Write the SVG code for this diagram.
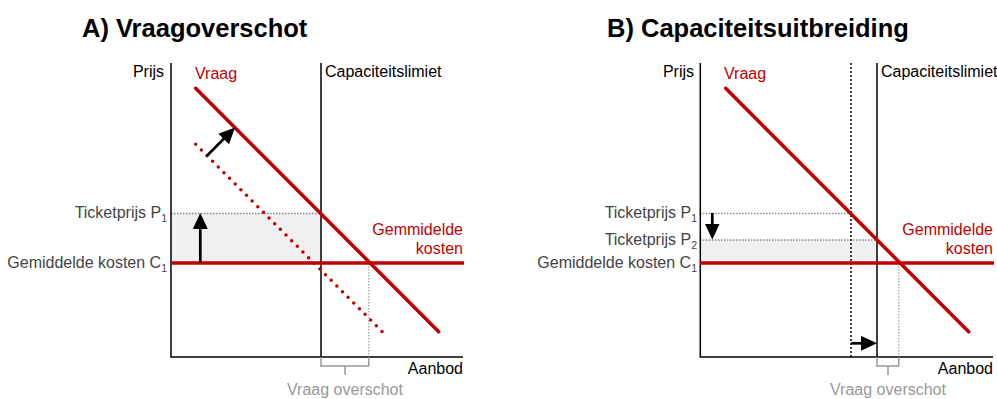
<svg xmlns="http://www.w3.org/2000/svg" width="997" height="399" viewBox="0 0 997 399">
<style>
text{font-family:"Liberation Sans",Arial,sans-serif;font-size:16px;fill:#000}
.title{font-size:25.5px;font-weight:bold}
.red{fill:#c00000}
.gray{fill:#444}
.light{fill:#999}
.end{text-anchor:end}
.mid{text-anchor:middle}
.sub{font-size:10.5px}
.axis{stroke:#000;stroke-width:1.5;fill:none}
.demand{stroke:#c00000;stroke-width:3.5;stroke-linecap:round;fill:none}
.dots{stroke:#c00000;stroke-width:3.5;stroke-linecap:round;stroke-dasharray:0 8;fill:none}
.cost{stroke:#c00000;stroke-width:3.5;fill:none}
.guide{stroke:#888;stroke-width:1.3;stroke-dasharray:1.5 1.5;fill:none}
.guide2{stroke:#aaa;stroke-width:1.3;stroke-dasharray:1.5 1.5;fill:none}
.vdot{stroke:#000;stroke-width:1.5;stroke-dasharray:2 2;fill:none}
.bracket{stroke:#999;stroke-width:1.5;fill:none}
.shade{fill:#f0f0f0}
.arrow{stroke:#000;stroke-width:2.7;fill:none;marker-end:url(#ah)}
</style>
<defs>
<marker id="ah" markerUnits="userSpaceOnUse" markerWidth="16" markerHeight="15" viewBox="0 0 16 15" refX="3" refY="7.5" orient="auto">
<path d="M0,0 L16,7.5 L0,15 z" fill="#000"/>
</marker>
</defs>

<g id="panelA">
<text class="title" x="82" y="37">A) Vraagoverschot</text>
<g id="A-shade"><rect class="shade" x="171" y="213.5" width="150" height="49"/></g>
<g id="A-guides">
<line class="guide" x1="171" y1="213.5" x2="321" y2="213.5"/>
<line class="guide2" x1="368.7" y1="263" x2="368.7" y2="357"/>
</g>
<g id="A-axes">
<polyline class="axis" points="171,63 171,357 463,357"/>
<text x="164" y="77" class="end">Prijs</text>
<text x="463" y="374" class="end">Aanbod</text>
</g>
<g id="A-capacity">
<line class="axis" x1="321" y1="63" x2="321" y2="357"/>
<text x="325" y="77">Capaciteitslimiet</text>
</g>
<g id="A-demand-old"><line class="dots" x1="195.7" y1="144.3" x2="382.3" y2="331.7"/></g>
<g id="A-demand">
<line class="demand" x1="195.7" y1="88.3" x2="438.7" y2="331.7"/>
<text x="195" y="79" class="red">Vraag</text>
</g>
<g id="A-cost">
<line class="cost" x1="171" y1="263" x2="464" y2="263"/>
<text x="463" y="235" class="red end">Gemmidelde</text>
<text x="463" y="254" class="red end">kosten</text>
</g>
<g id="A-labels">
<text x="167" y="218" class="gray end">Ticketprijs P<tspan class="sub" dy="4">1</tspan></text>
<text x="167" y="268" class="gray end">Gemiddelde kosten C<tspan class="sub" dy="4">1</tspan></text>
</g>
<g id="A-excess">
<polyline class="bracket" points="321,357 321,366 368.7,366 368.7,357"/>
<line class="bracket" x1="345" y1="366" x2="345" y2="375"/>
<text x="345" y="395" class="light mid">Vraag overschot</text>
</g>
<g id="A-connectors">
<line class="arrow" x1="206.7" y1="156" x2="225.8" y2="136.8"/>
<line class="arrow" x1="200.3" y1="263" x2="200.3" y2="226"/>
</g>
</g>

<g id="panelB">
<text class="title" x="607" y="37">B) Capaciteitsuitbreiding</text>
<g id="B-shade"><rect class="shade" x="700" y="240" width="177" height="23"/></g>
<g id="B-guides">
<line class="guide" x1="700" y1="213.5" x2="851" y2="213.5"/>
<line class="guide" x1="700" y1="240" x2="877" y2="240"/>
<line class="guide2" x1="898.7" y1="263" x2="898.7" y2="357"/>
<line class="vdot" x1="851" y1="63" x2="851" y2="357"/>
</g>
<g id="B-axes">
<polyline class="axis" points="700.3,63 700.3,357 993,357"/>
<text x="694" y="77" class="end">Prijs</text>
<text x="993" y="374" class="end">Aanbod</text>
</g>
<g id="B-capacity">
<line class="axis" x1="877" y1="63" x2="877" y2="357"/>
<text x="881" y="77">Capaciteitslimiet</text>
</g>
<g id="B-demand">
<line class="demand" x1="725.7" y1="88.3" x2="968.7" y2="331.7"/>
<text x="724" y="79" class="red">Vraag</text>
</g>
<g id="B-cost">
<line class="cost" x1="700" y1="263" x2="994" y2="263"/>
<text x="993" y="235" class="red end">Gemmidelde</text>
<text x="993" y="254" class="red end">kosten</text>
</g>
<g id="B-labels">
<text x="697" y="218" class="gray end">Ticketprijs P<tspan class="sub" dy="4">1</tspan></text>
<text x="697" y="245" class="gray end">Ticketprijs P<tspan class="sub" dy="4">2</tspan></text>
<text x="697" y="268" class="gray end">Gemiddelde kosten C<tspan class="sub" dy="4">1</tspan></text>
</g>
<g id="B-excess">
<polyline class="bracket" points="877,357 877,366 898.7,366 898.7,357"/>
<line class="bracket" x1="888" y1="366" x2="888" y2="375"/>
<text x="888" y="395" class="light mid">Vraag overschot</text>
</g>
<g id="B-connectors">
<line class="arrow" x1="712.3" y1="213" x2="712.3" y2="226.5"/>
<line class="arrow" x1="851" y1="343.3" x2="864" y2="343.3"/>
</g>
</g>
</svg>
